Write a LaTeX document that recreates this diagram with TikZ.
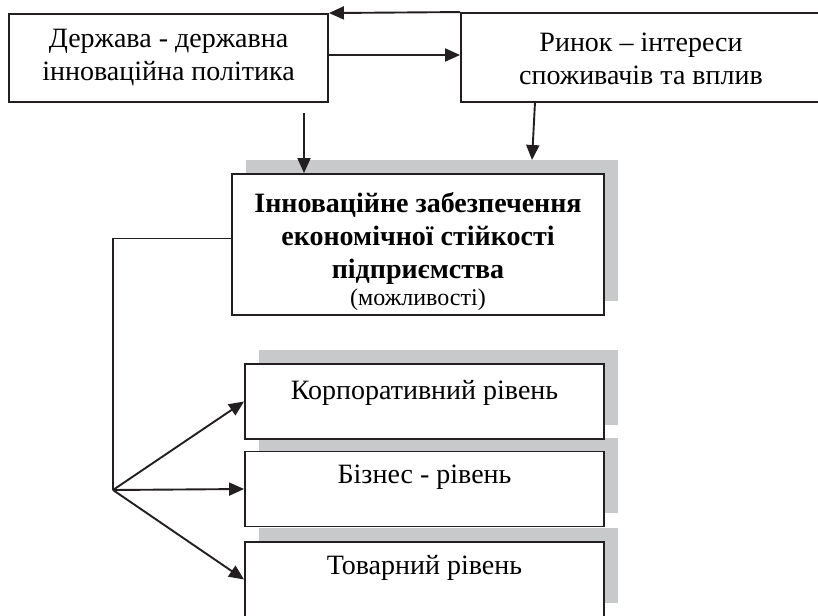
\documentclass[tikz,border=0pt]{standalone}
\usepackage{fontspec}
\setmainfont{Liberation Serif}
\usetikzlibrary{arrows.meta,positioning,shadows}

\definecolor{shadowgray}{RGB}{200,201,203}
\definecolor{inkgray}{RGB}{35,31,32}

\tikzset{
  box/.style={draw=inkgray, line width=1.9pt, fill=white, inner sep=0pt},
  grayshadow/.style={drop shadow={shadow xshift=14pt, shadow yshift=14pt,
      fill=shadowgray, opacity=1}},
  corebox/.style={box, grayshadow, minimum width=372pt, minimum height=141pt},
  levelbox/.style={box, grayshadow, minimum width=359pt, minimum height=75pt},
  boxtext/.style={inner sep=0pt, align=center, font=\fontsize{28}{33}\selectfont},
  leveltext/.style={boxtext, anchor=base},
  link/.style={draw=inkgray, line width=1.9pt},
  linkarrow/.style={link, -{Triangle[length=15pt,width=13pt]}}
}

\begin{document}
\begin{tikzpicture}[x=1pt,y=-1pt]
  \useasboundingbox (0,0) rectangle (818,615);

  % state and market
  \node[box, minimum width=319pt, minimum height=88pt] (state) at (168.5,58) {};
  \node[boxtext] (statetxt) at (168.5,57.5) {Держава - державна\\інноваційна політика};
  \node[box, minimum width=361pt, minimum height=89pt] (market) at (641.5,57.5) {};
  \node[boxtext] (markettxt) at (641,59) {Ринок – інтереси\\споживачів та вплив};

  % innovation support
  \node[corebox] (core) at (418,244.5) {};
  \node[boxtext, font=\fontsize{28}{33}\selectfont\bfseries] (coretxt) at (418,251.5)
    {Інноваційне забезпечення\\економічної стійкості\\підприємства\\[-6pt]
     {\fontsize{24}{26}\selectfont\mdseries (можливості)}};

  % levels (lowest first, so each box lies over the shadow below it)
  \node[levelbox] (goods) at (424.5,579.5) {};
  \node[levelbox] (business) at (424.5,489) {};
  \node[levelbox] (corporate) at (424.5,401.5) {};
  \node[leveltext] (corporatetxt) at ([yshift=-36pt]corporate.north) {Корпоративний рівень};
  \node[leveltext] (businesstxt) at ([yshift=-33pt]business.north) {Бізнес - рівень};
  \node[leveltext] (goodstxt) at ([yshift=-33pt]goods.north) {Товарний рівень};

  % connectors
  \coordinate (statefoot) at (304,113);
  \coordinate (marketfoot) at (535,102);
  \coordinate (coreshadow) at (532,160);
  \coordinate (fan) at (113,490);

  \draw[linkarrow] (market.north west) -- (state.north east);
  \draw[linkarrow] ([yshift=3pt]state.east) -- ([yshift=3pt]state.east -| market.west);
  \draw[linkarrow] (statefoot) -- (statefoot |- core.north);
  \draw[linkarrow] (marketfoot) -- (coreshadow);
  \draw[link] ([yshift=6pt]core.west) -| (fan);
  \draw[linkarrow] (fan) -- (corporate.west);
  \draw[linkarrow] (fan) -- (business.west);
  \draw[linkarrow] (fan) -- (goods.west);
\end{tikzpicture}
\end{document}
